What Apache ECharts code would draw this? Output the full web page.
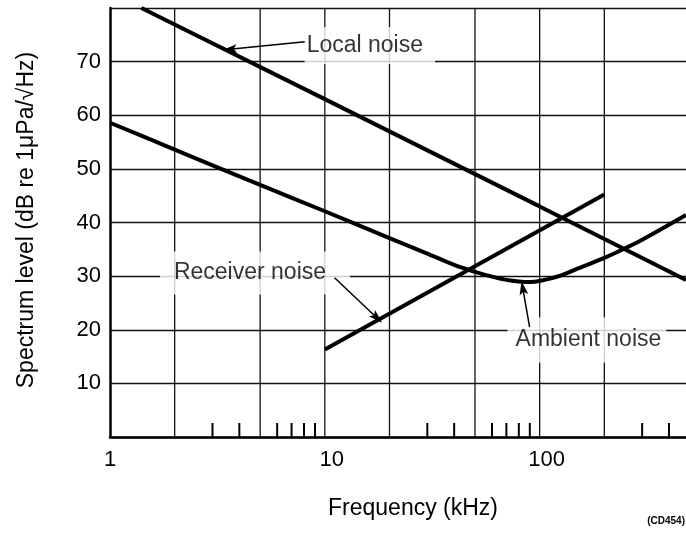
<!DOCTYPE html>
<html>
<head>
<meta charset="utf-8">
<script src="https://cdn.jsdelivr.net/npm/echarts@6/dist/echarts.min.js"></script>
<style>
  html, body { margin: 0; padding: 0; background: #fff; }
  #chart { width: 686px; height: 540px; }
</style>
</head>
<body>
<div id="chart"></div>
<script>
// ---- data ----
const localFreq = [1.4, 10, 100, 480];
const localLevel = [80, 63, 43, 29.3];

const receiverFreq = [10, 200];
const receiverLevel = [16.3, 45.2];

const ambientFreq = [1, 2, 5, 10, 20, 30, 40, 50, 60, 70, 80, 90, 100, 125, 150, 200, 250, 300, 400, 480];
const ambientLevel = [58.6, 53.6, 47.0, 42.1, 37.1, 34.2, 32.1, 30.8, 29.9, 29.3, 29.0, 28.9, 29.1, 30.1, 31.4, 33.4, 35.2, 36.8, 39.6, 41.4];

const xTickLabels = [1, 10, 100];
const yTickLabels = [10, 20, 30, 40, 50, 60, 70];
const gridFreqs = [2, 5, 10, 20, 50, 100, 200];
const minorTickFreqs = [3, 4, 6, 7, 8, 9, 30, 40, 60, 70, 80, 90, 300, 400];

// annotation labels (data coordinates of label box centres) and arrows
const labelTexts = ['Local noise', 'Receiver noise', 'Ambient noise'];
const labelAt = [[16.2, 73.0], [4.73, 30.6], [166, 18.1]];
const labelPad = [[8, 12, 6, 2], [6, 24, 14, 14], [15, 5, 7, 8]];
const arrowFrom = [[8.07, 73.7], [11.1, 29.7], [89.8, 20.5]];
const arrowTo = [[3.61, 72.3], [17.5, 22.2], [83.4, 27.8]];

const FONT = '"Liberation Sans", Arial, Helvetica, sans-serif';
const zip = (a, b) => a.map((v, i) => [v, b[i]]);

const chart = echarts.init(document.getElementById('chart'), null, { renderer: 'canvas' });

const arrowLines = arrowFrom.map((p, i) => [{ coord: p }, { coord: arrowTo[i] }]);

function arrowMark(i) {
  return {
    silent: true,
    symbol: ['none', 'path://M5,0 L10,16 L5,12.5 L0,16 Z'],
    symbolSize: 14,
    symbolKeepAspect: true,
    label: { show: false },
    itemStyle: { color: '#000' },
    lineStyle: { color: '#000', width: 1.5, type: 'solid' },
    data: [arrowLines[i]]
  };
}

const option = {
  animation: false,
  backgroundColor: '#fff',
  textStyle: { fontFamily: FONT },
  grid: { left: 110, right: 0, top: 8, bottom: 103, containLabel: false },
  xAxis: {
    type: 'log',
    logBase: 10,
    min: 1,
    max: 480,
    axisLine: { show: true, lineStyle: { color: '#000', width: 2.5 } },
    axisTick: { show: false },
    splitLine: { show: false },
    axisLabel: {
      show: true,
      margin: 12,
      color: '#000',
      fontSize: 22,
      fontFamily: FONT,
      showMaxLabel: false,
      formatter: function (v) {
        const e = Math.log10(v);
        const r = Math.round(v);
        if (Math.abs(e - Math.round(e)) > 1e-6 || xTickLabels.indexOf(r) < 0) return '';
        return r === 1 ? '{a|' + r + '}' : '{b|' + r + '}';
      },
      rich: {
        a: { fontSize: 22, color: '#000', fontFamily: FONT },
        b: { fontSize: 22, color: '#000', fontFamily: FONT, padding: [0, 0, 0, 14] }
      }
    }
  },
  yAxis: {
    type: 'value',
    min: 0,
    max: 80,
    interval: 10,
    axisLine: { show: true, lineStyle: { color: '#000', width: 2.5 } },
    axisTick: { show: false },
    splitLine: { show: true, lineStyle: { color: '#111', width: 1.3 } },
    axisLabel: {
      margin: 9,
      color: '#000',
      fontSize: 22,
      fontFamily: FONT,
      formatter: function (v) { return yTickLabels.indexOf(v) >= 0 ? String(v) : ''; }
    }
  },
  graphic: [
    {
      type: 'text', x: 27, y: 220, rotation: Math.PI / 2,
      style: { text: 'Spectrum level (dB re 1\u03bcPa/\u221aHz)', font: '23px ' + FONT, fill: '#000', textAlign: 'center', textVerticalAlign: 'middle' }
    },
    {
      type: 'text', x: 413, y: 509,
      style: { text: 'Frequency (kHz)', font: '23px ' + FONT, fill: '#000', textAlign: 'center', textVerticalAlign: 'middle' }
    },
    {
      type: 'text', x: 685, y: 521,
      style: { text: '(CD454)', font: 'bold 10px ' + FONT, fill: '#000', textAlign: 'right', textVerticalAlign: 'middle' }
    }
  ],
  series: [
    {
      name: 'gridX',
      type: 'custom',
      z: 1,
      silent: true,
      data: gridFreqs.map(f => [f, 0]),
      encode: { x: 0, y: 1 },
      renderItem: function (params, api) {
        const p0 = api.coord([api.value(0), 0]);
        const p1 = api.coord([api.value(0), 80]);
        return { type: 'line', shape: { x1: p0[0], y1: p0[1], x2: p1[0], y2: p1[1] }, style: { stroke: '#111', lineWidth: 1.3 } };
      }
    },
    {
      name: 'minorTicks',
      type: 'custom',
      z: 1,
      silent: true,
      data: minorTickFreqs.map(f => [f, 0]),
      encode: { x: 0, y: 1 },
      renderItem: function (params, api) {
        const p0 = api.coord([api.value(0), 0]);
        return { type: 'line', shape: { x1: p0[0], y1: p0[1], x2: p0[0], y2: p0[1] - 14 }, style: { stroke: '#000', lineWidth: 2 } };
      }
    },
    {
      name: 'labels',
      type: 'scatter',
      z: 3,
      silent: true,
      symbolSize: 1,
      itemStyle: { color: 'rgba(0,0,0,0)' },
      data: labelTexts.map((t, i) => ({
        value: labelAt[i],
        name: t,
        label: { padding: labelPad[i] }
      })),
      label: {
        show: true,
        position: 'inside',
        formatter: p => p.name,
        color: '#000',
        fontSize: 23,
        fontFamily: FONT,
        backgroundColor: '#fff'
      }
    },
    {
      name: 'Local noise',
      type: 'line',
      z: 5,
      data: zip(localFreq, localLevel),
      symbol: 'none',
      itemStyle: { color: '#000' },
      lineStyle: { color: '#000', width: 4 },
      markLine: arrowMark(0)
    },
    {
      name: 'Receiver noise',
      type: 'line',
      z: 5,
      data: zip(receiverFreq, receiverLevel),
      symbol: 'none',
      itemStyle: { color: '#000' },
      lineStyle: { color: '#000', width: 4 },
      markLine: arrowMark(1)
    },
    {
      name: 'Ambient noise',
      type: 'line',
      z: 5,
      smooth: 0.3,
      data: zip(ambientFreq, ambientLevel),
      symbol: 'none',
      itemStyle: { color: '#000' },
      lineStyle: { color: '#000', width: 4 },
      markLine: arrowMark(2)
    }
  ]
};

chart.setOption(option);
</script>
</body>
</html>
